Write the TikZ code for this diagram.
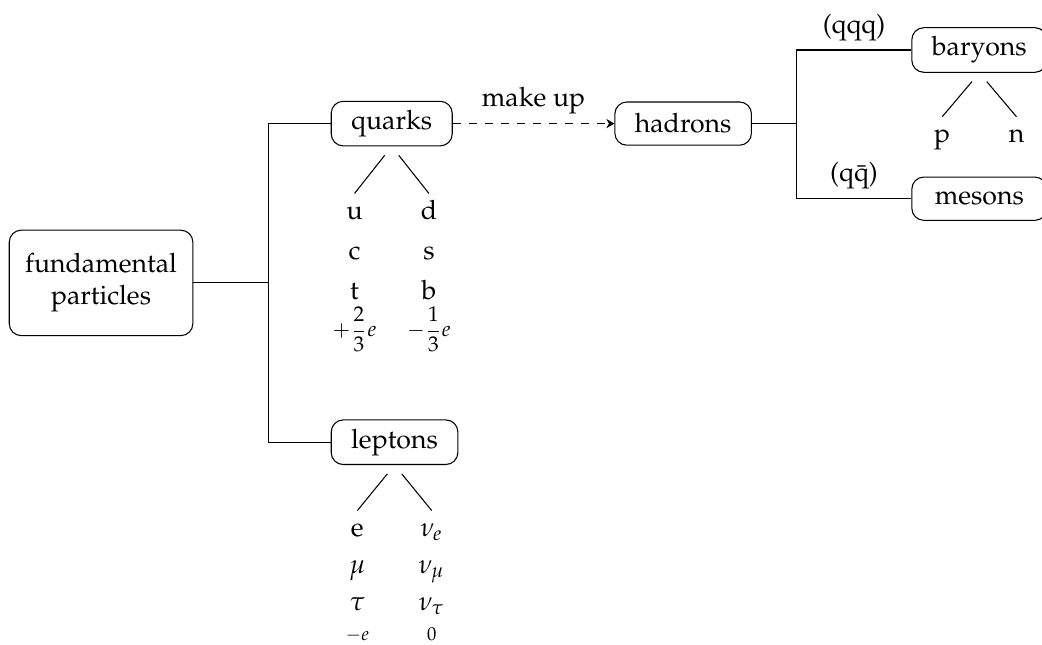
\documentclass[tikz,border=0pt]{standalone}
\usepackage[T1]{fontenc}
\usepackage{amsmath}
\usepackage{mathpazo}
\usetikzlibrary{arrows.meta,positioning}

\begin{document}
\begin{tikzpicture}[
        box/.style={rectangle, rounded corners=4.5pt, draw=black, inner xsep=7.5pt, minimum height=5.7mm, align=center},
        leaf/.style={inner ysep=1pt, align=center},
        arrow/.style={-{Stealth[length=3pt,width=3.5pt]}, dashed}
    ]
        \useasboundingbox (-37.9pt,-135.75pt) rectangle (352.9pt,106.1pt);

        \node[box, inner xsep=5pt, minimum width=24.2mm, minimum height=13.9mm] (fund) at (0,0) {fundamental\\particles};
        \coordinate[right=9.9mm of fund.east] (fj);
        \node[box, right=18.1mm of fund.east, yshift=21mm] (quarks) {quarks};
        \node[box, right=18.1mm of fund.east, yshift=-21mm] (leptons) {leptons};
        \node[box, right=21.3mm of quarks.east] (hadrons) {hadrons};
        \coordinate[right=5.9mm of hadrons.east] (hj);
        \node[box, minimum width=17.8mm, right=21mm of hadrons.east, yshift=9.7mm] (baryons) {baryons};
        \node[box, minimum width=17.8mm, right=21mm of hadrons.east, yshift=-9.9mm] (mesons) {mesons};

        % members of each family
        \node[leaf, anchor=north] (qup) at ([shift={(-4.9mm,-6.2mm)}]quarks.south) {\strut u\\[3pt]c\\[3pt]t\\[2pt]{\footnotesize$+\dfrac{2}{3}e$}};
        \node[leaf, anchor=north] (qdown) at ([shift={(4.9mm,-6.2mm)}]quarks.south) {\strut d\\[3pt]s\\[3pt]b\\[2pt]{\footnotesize$-\dfrac{1}{3}e$}};
        \node[leaf, anchor=north] (lcharged) at ([shift={(-4.9mm,-6mm)}]leptons.south) {\strut e\\[2pt]$\mu$\\[2pt]$\tau$\\[-1pt]{\scriptsize$-e$}};
        \node[leaf, anchor=north] (lneutral) at ([shift={(4.9mm,-6mm)}]leptons.south) {\strut$\nu_e$\\[2pt]$\nu_\mu$\\[2pt]$\nu_\tau$\\[-1pt]{\scriptsize$0$}};
        \node[leaf, anchor=north] (proton) at ([shift={(-4.9mm,-5.8mm)}]baryons.south) {\strut p};
        \node[leaf, anchor=north] (neutron) at ([shift={(4.9mm,-5.8mm)}]baryons.south) {\strut n};

        \draw (fund.east) -- (fj);
        \draw (quarks.west) -| (fj) |- (leptons.west);
        \draw[arrow] (quarks.east) -- node[above] {make up} (hadrons.west);
        \draw (hadrons.east) -- (hj);
        \draw (baryons.west) -- node[above] {(qqq)} (baryons.west -| hj) |- node[pos=0.75, above] {(q\={q})} (mesons.west);

        \draw[shorten <=1.5mm] (quarks.south) -- (qup.north);
        \draw[shorten <=1.5mm] (quarks.south) -- (qdown.north);
        \draw[shorten <=1.5mm] (leptons.south) -- (lcharged.north);
        \draw[shorten <=1.5mm] (leptons.south) -- (lneutral.north);
        \draw[shorten <=1.5mm] (baryons.south) -- (proton.north);
        \draw[shorten <=1.5mm] (baryons.south) -- (neutron.north);
    \end{tikzpicture}
\end{document}
